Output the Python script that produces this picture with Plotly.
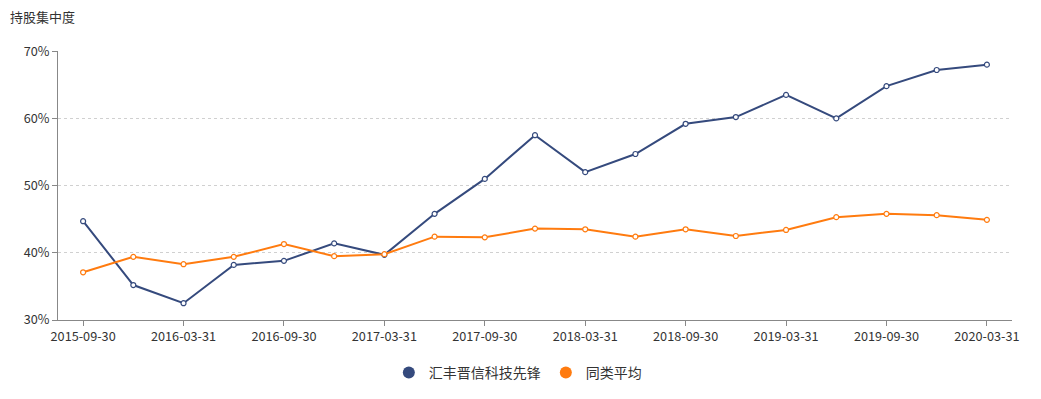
import plotly.graph_objects as go

dates = ["2015-09-30", "2015-12-31", "2016-03-31", "2016-06-30", "2016-09-30", "2016-12-31",
         "2017-03-31", "2017-06-30", "2017-09-30", "2017-12-31", "2018-03-31", "2018-06-30",
         "2018-09-30", "2018-12-31", "2019-03-31", "2019-06-30", "2019-09-30", "2019-12-31",
         "2020-03-31"]
fund_name = "汇丰晋信科技先锋"
avg_name = "同类平均"
fund_values = [44.7, 35.2, 32.5, 38.2, 38.8, 41.4, 39.7, 45.8, 51.0, 57.5, 52.0, 54.7,
               59.2, 60.2, 63.5, 60.0, 64.8, 67.2, 68.0]
avg_values = [37.1, 39.4, 38.3, 39.4, 41.3, 39.5, 39.8, 42.4, 42.3, 43.6, 43.5, 42.4,
              43.5, 42.5, 43.4, 45.3, 45.8, 45.6, 44.9]
y_ticks = [30, 40, 50, 60, 70]
title = "持股集中度"

navy = "#354a7d"
orange = "#ff7b0f"
font = "Noto Sans CJK SC, Microsoft YaHei, sans-serif"

fig = go.Figure()
for name, vals, col in [(fund_name, fund_values, navy), (avg_name, avg_values, orange)]:
    fig.add_trace(go.Scatter(
        x=dates, y=vals, mode="lines+markers", name=name, showlegend=False,
        line=dict(color=col, width=2),
        marker=dict(symbol="circle", size=5, color="white", line=dict(color=col, width=1.2)),
    ))
for name, col in [(fund_name, navy), (avg_name, orange)]:
    fig.add_trace(go.Scatter(
        x=[None], y=[None], mode="markers", name=name,
        marker=dict(symbol="circle", size=12, color=col),
    ))

fig.update_layout(
    width=1033, height=391,
    margin=dict(l=50, r=29, t=43, b=79, autoexpand=False),
    paper_bgcolor="white", plot_bgcolor="white",
    font=dict(family=font, size=12, color="#333"),
    title=dict(text=title, x=2 / 1033, xref="container", xanchor="left",
               y=1 - 9 / 391, yref="container", yanchor="middle",
               font=dict(family=font, size=13, color="#333"), pad=dict(l=0)),
    legend=dict(orientation="h", x=0.482, xanchor="center", y=-0.197, yanchor="middle",
                font=dict(family=font, size=14, color="#333"), itemwidth=30,
                tracegroupgap=0),
    hovermode="x",
)
fig.update_xaxes(
    type="category", range=[-0.5, len(dates) - 0.5],
    tickmode="array", tickvals=dates[::2], ticktext=dates[::2],
    ticks="outside", ticklen=5, tickcolor="#888",
    showline=True, linecolor="#888", linewidth=1,
    showgrid=False, tickfont=dict(size=12.7, color="#333"),
)
fig.update_yaxes(
    range=[30, 70.03], tickvals=y_ticks, ticktext=[f"{v}%" for v in y_ticks],
    ticks="outside", ticklen=5, tickcolor="#888",
    showline=True, linecolor="#888", linewidth=1,
    showgrid=True, gridcolor="#d0d0d0", griddash="3px,3px", gridwidth=1,
    zeroline=False, tickfont=dict(size=12.7, color="#333"),
)
fig.write_html("out.html")
